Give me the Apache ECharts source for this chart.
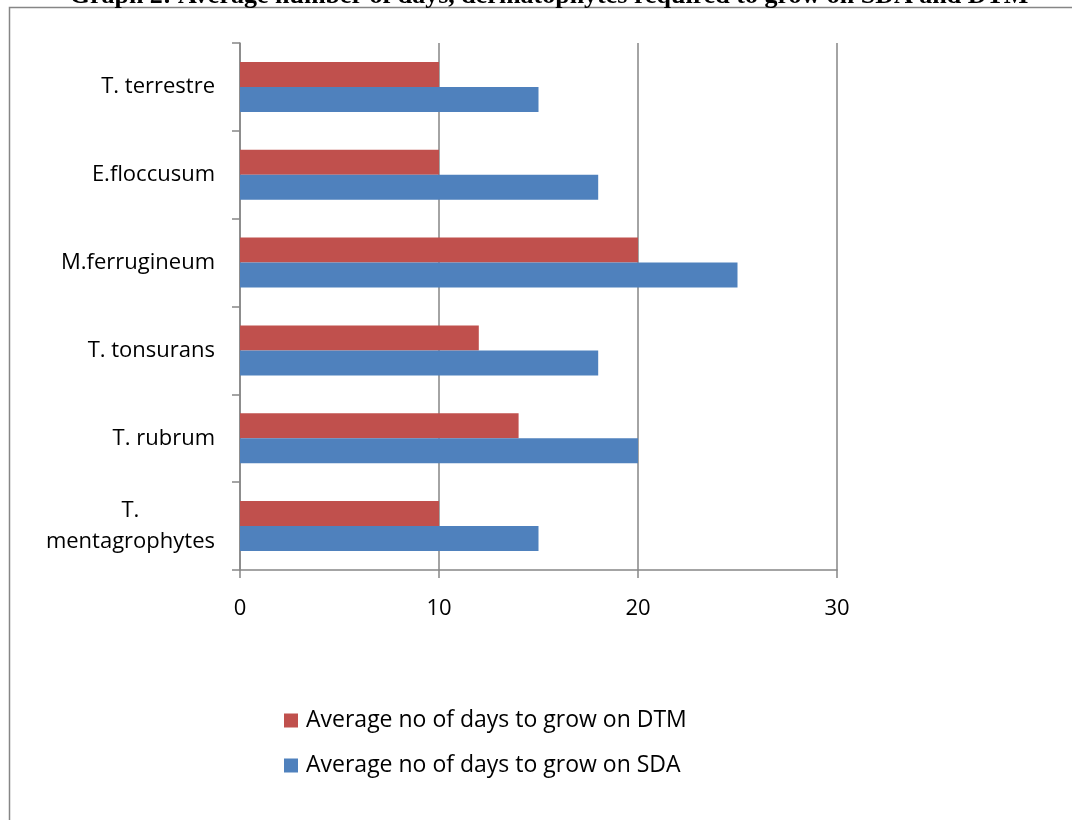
<!DOCTYPE html>
<html>
<head>
    <meta charset="UTF-8">
    <title>Graph 2</title>
    <script src="https://cdn.jsdelivr.net/npm/echarts@6/dist/echarts.min.js"></script>
    <style>
        body { margin: 0; background: #fff; }
        #main { width: 1072px; height: 820px; }
    </style>
</head>
<body>
    <div id="main"></div>
    <script>
        // categories bottom -> top, as the category axis draws them
        var species = ['T. mentagrophytes', 'T. rubrum', 'T. tonsurans', 'M.ferrugineum', 'E.floccusum', 'T. terrestre'];
        var daysDTM = [10, 14, 12, 20, 10, 10];
        var daysSDA = [15, 20, 18, 25, 18, 15];
        var xTicks = [0, 10, 20, 30];

        var gray = '#868686';
        var font = 'Open Sans';
        var fs = 22;

        var chart = echarts.init(document.getElementById('main'), null, {renderer: 'canvas'});
        chart.setOption({
            animation: false,
            backgroundColor: '#fff',
            graphic: [
                {
                    type: 'rect',
                    shape: {x: 9.5, y: 7.5, width: 1100, height: 900},
                    style: {fill: 'none', stroke: gray, lineWidth: 1.5},
                    silent: true
                },
                {
                    type: 'text',
                    x: 549, y: 9,
                    style: {
                        text: 'Graph 2: Average number of days, dermatophytes required to grow on SDA and DTM',
                        font: 'bold 26px "Liberation Serif"',
                        fill: '#000',
                        align: 'center',
                        verticalAlign: 'bottom'
                    },
                    silent: true
                }
            ],
            grid: {left: 240, right: 235, top: 43, bottom: 250, containLabel: false},
            legend: {
                orient: 'vertical',
                left: 279,
                top: 704,
                itemWidth: 14,
                itemHeight: 14,
                itemGap: 22,
                icon: 'rect',
                data: ['Average no of days to grow on DTM', 'Average no of days to grow on SDA'],
                textStyle: {fontFamily: font, fontSize: 23, color: '#000', lineHeight: 22, padding: [0, 0, 0, 3]}
            },
            xAxis: {
                type: 'value',
                min: xTicks[0],
                max: xTicks[xTicks.length - 1],
                interval: 10,
                axisLine: {show: true, lineStyle: {color: gray, width: 1.5}},
                axisTick: {show: true, length: 8, lineStyle: {color: gray, width: 1.5}},
                splitLine: {show: true, lineStyle: {color: gray, width: 1.5}},
                axisLabel: {fontFamily: font, fontSize: fs, color: '#000', margin: 28}
            },
            yAxis: {
                type: 'category',
                data: species,
                axisLine: {show: true, lineStyle: {color: gray, width: 1.5}},
                axisTick: {show: true, length: 8, lineStyle: {color: gray, width: 1.5}},
                axisLabel: {
                    fontFamily: font, fontSize: fs, color: '#000', margin: 25,
                    formatter: function (v) {
                        if (v === 'T. mentagrophytes') {
                            return '{c|T.}\n{c|mentagrophytes}';
                        }
                        return v;
                    },
                    rich: {
                        c: {fontFamily: font, fontSize: fs, color: '#000', align: 'center', lineHeight: 31}
                    }
                }
            },
            series: [
                {
                    name: 'Average no of days to grow on DTM',
                    type: 'bar',
                    data: daysDTM,
                    barWidth: 25,
                    barGap: '0%',
                    itemStyle: {color: '#C0504D'}
                },
                {
                    name: 'Average no of days to grow on SDA',
                    type: 'bar',
                    data: daysSDA,
                    barWidth: 25,
                    barGap: '0%',
                    itemStyle: {color: '#4F81BD'}
                }
            ]
        });
    </script>
</body>
</html>
